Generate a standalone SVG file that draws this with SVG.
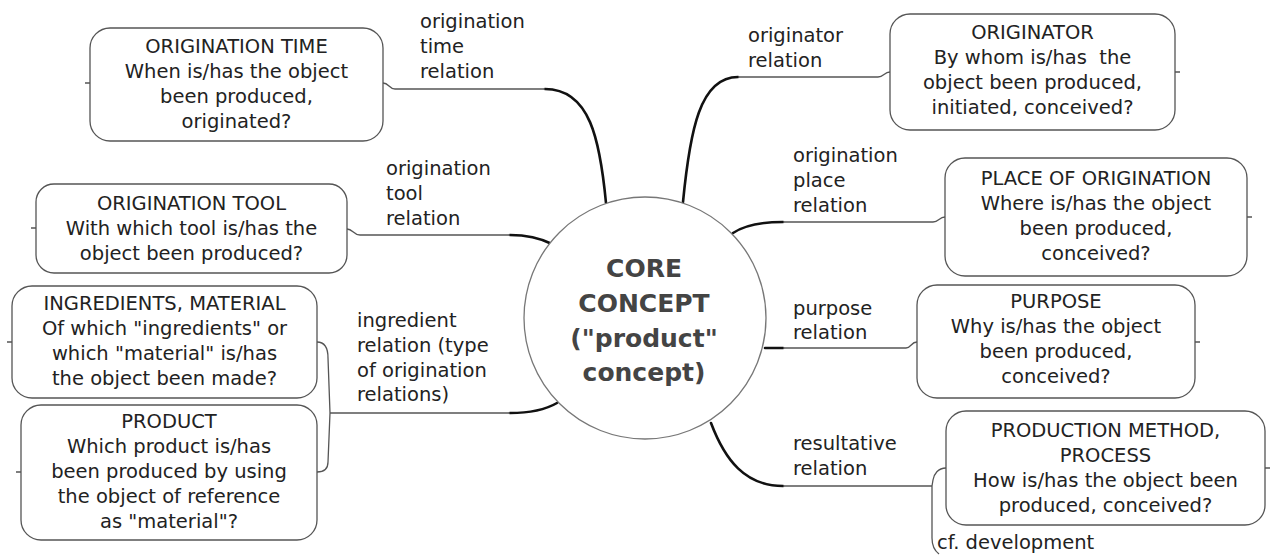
<svg xmlns="http://www.w3.org/2000/svg" width="1279" height="557" viewBox="0 0 1279 557">
<style>
.box{fill:#fff;stroke:#555;stroke-width:1.3}
.t{font-family:"DejaVu Sans",Verdana,sans-serif;font-size:19.5px;fill:#222}
.c{text-anchor:middle}
.core{font-family:"DejaVu Sans",Verdana,sans-serif;font-size:25px;font-weight:bold;fill:#444;text-anchor:middle}
.thin{fill:none;stroke:#555;stroke-width:1.3}
.thick{fill:none;stroke:#111;stroke-width:2.6;stroke-linecap:round}
</style>
<rect width="1279" height="557" fill="#fff"/>
<g id="connectors">
  <path class="thick" d="M606,203 C600,140 590,89 545,89"/>
  <path class="thin" d="M545,89 L395,89 C389,89 389,83 383,83"/>
  <path class="thick" d="M552,244 C540,238 528,235 510,235"/>
  <path class="thin" d="M510,235 L360,235 C353,235 353,229 347,229"/>
  <path class="thick" d="M557,403 C545,410 530,413 510,413"/>
  <path class="thin" d="M510,413 L330,413"/>
  <path class="thin" d="M317,342 C325,342 328,348 328,358 L330,413 L328,462 C328,468 325,472 317,472"/>
  <path class="thick" d="M683,202 C690,130 700,77 738,77"/>
  <path class="thin" d="M738,77 L878,77 C884,77 884,72 890,72"/>
  <path class="thick" d="M733,233 C745,225 760,222 783,222"/>
  <path class="thin" d="M783,222 L933,222 C939,222 939,217 945,217"/>
  <path class="thick" d="M765,348 L783,348"/>
  <path class="thin" d="M783,348 L906,348 C911,348 911,342 917,342"/>
  <path class="thick" d="M711,423 C725,460 745,486 783,486"/>
  <path class="thin" d="M783,486 L932,486"/>
  <path class="thin" d="M946,468 C938,468 934,474 933,480 L932,486 L932,538 C932,546 935,551 939,554"/>
  <path class="thin" d="M85,83 H90 M31,228 H36 M7,342 H12 M16,472 H21 M1175,72 H1180 M1247,217 H1252 M1195,342 H1200 M1265,468 H1270"/>
</g>
<g id="labels">
  <text class="t" x="420" y="28">origination</text>
  <text class="t" x="420" y="53">time</text>
  <text class="t" x="420" y="78">relation</text>
  <text class="t" x="386" y="175">origination</text>
  <text class="t" x="386" y="200">tool</text>
  <text class="t" x="386" y="225">relation</text>
  <text class="t" x="357" y="327">ingredient</text>
  <text class="t" x="357" y="352">relation (type</text>
  <text class="t" x="357" y="377">of origination</text>
  <text class="t" x="357" y="401">relations)</text>
  <text class="t" x="748" y="42">originator</text>
  <text class="t" x="748" y="67">relation</text>
  <text class="t" x="793" y="162">origination</text>
  <text class="t" x="793" y="187">place</text>
  <text class="t" x="793" y="212">relation</text>
  <text class="t" x="793" y="315">purpose</text>
  <text class="t" x="793" y="339">relation</text>
  <text class="t" x="793" y="450">resultative</text>
  <text class="t" x="793" y="475">relation</text>
</g>
<g id="core">
  <circle cx="645" cy="318" r="121" fill="#fff" stroke="#777" stroke-width="1.3"/>
  <text class="core" x="644" y="277">CORE</text>
  <text class="core" x="644" y="312">CONCEPT</text>
  <text class="core" x="644" y="347">("product"</text>
  <text class="core" x="644" y="381">concept)</text>
</g>
<g id="origination-time">
  <rect class="box" x="90" y="28" width="293" height="113" rx="20"/>
  <text class="t c" x="236.5" y="53">ORIGINATION TIME</text>
  <text class="t c" x="236.5" y="78">When is/has the object</text>
  <text class="t c" x="236.5" y="103">been produced,</text>
  <text class="t c" x="236.5" y="128">originated?</text>
</g>
<g id="origination-tool">
  <rect class="box" x="36" y="184" width="311" height="89" rx="18"/>
  <text class="t c" x="191.5" y="210">ORIGINATION TOOL</text>
  <text class="t c" x="191.5" y="235">With which tool is/has the</text>
  <text class="t c" x="191.5" y="260">object been produced?</text>
</g>
<g id="ingredients">
  <rect class="box" x="12" y="286" width="305" height="112" rx="20"/>
  <text class="t c" x="164.5" y="310">INGREDIENTS, MATERIAL</text>
  <text class="t c" x="164.5" y="335">Of which "ingredients" or</text>
  <text class="t c" x="164.5" y="360">which "material" is/has</text>
  <text class="t c" x="164.5" y="385">the object been made?</text>
</g>
<g id="product">
  <rect class="box" x="21" y="405" width="296" height="135" rx="20"/>
  <text class="t c" x="169" y="428">PRODUCT</text>
  <text class="t c" x="169" y="453">Which product is/has</text>
  <text class="t c" x="169" y="478">been produced by using</text>
  <text class="t c" x="169" y="503">the object of reference</text>
  <text class="t c" x="169" y="528">as "material"?</text>
</g>
<g id="originator">
  <rect class="box" x="890" y="14" width="285" height="116" rx="20"/>
  <text class="t c" x="1032.5" y="39">ORIGINATOR</text>
  <text class="t c" x="1032.5" y="64" style="white-space:pre">By whom is/has  the</text>
  <text class="t c" x="1032.5" y="89">object been produced,</text>
  <text class="t c" x="1032.5" y="114">initiated, conceived?</text>
</g>
<g id="place">
  <rect class="box" x="945" y="158" width="302" height="118" rx="20"/>
  <text class="t c" x="1096" y="185">PLACE OF ORIGINATION</text>
  <text class="t c" x="1096" y="210">Where is/has the object</text>
  <text class="t c" x="1096" y="235">been produced,</text>
  <text class="t c" x="1096" y="260">conceived?</text>
</g>
<g id="purpose">
  <rect class="box" x="917" y="285" width="278" height="113" rx="20"/>
  <text class="t c" x="1056" y="308">PURPOSE</text>
  <text class="t c" x="1056" y="333">Why is/has the object</text>
  <text class="t c" x="1056" y="358">been produced,</text>
  <text class="t c" x="1056" y="383">conceived?</text>
</g>
<g id="production">
  <rect class="box" x="946" y="411" width="319" height="114" rx="20"/>
  <text class="t c" x="1105.5" y="437">PRODUCTION METHOD,</text>
  <text class="t c" x="1105.5" y="462">PROCESS</text>
  <text class="t c" x="1105.5" y="487">How is/has the object been</text>
  <text class="t c" x="1105.5" y="512">produced, conceived?</text>
</g>
<g id="cf-development">
  <text class="t" x="937" y="549">cf. development</text>
</g>
</svg>
